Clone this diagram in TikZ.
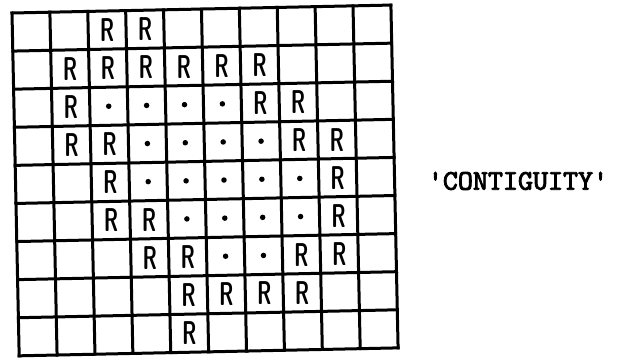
\documentclass[tikz,border=0pt]{standalone}
\usepackage{fontspec}
\usepackage{graphicx}
\newfontfamily\typew{lmmono10-regular.otf}[FakeBold=3]
\begin{document}
\begin{tikzpicture}[x=1pt,y=-1pt,
  gridline/.style={line width=3pt, line cap=rect},
  rmark/.style={font=\fontsize{33}{33}\selectfont\sffamily\bfseries, inner sep=0pt},
  dotmark/.style={circle, fill, inner sep=0pt, minimum size=5.5pt},
  caption/.style={font=\typew\fontsize{28.6}{28.6}\selectfont, inner sep=0pt}]
\useasboundingbox (0,0) rectangle (626,359);
\begin{scope}[shift={(12pt,-13pt)}, rotate=1.2, x=37.9pt, y=-38.1pt]
  \foreach \i in {0,...,10} \draw[gridline] (\i,0) -- (\i,9);
  \foreach \j in {0,...,9} \draw[gridline] (0,\j) -- (10,\j);
  \foreach \r/\c in {0/2,0/3,
                     1/1,1/2,1/3,1/4,1/5,1/6,
                     2/1,2/6,2/7,
                     3/1,3/2,3/7,3/8,
                     4/2,4/8,
                     5/2,5/3,5/8,
                     6/3,6/4,6/7,6/8,
                     7/4,7/5,7/6,7/7,
                     8/4}
    \node[rmark] (r-\r-\c) at (\c+0.5,\r+0.5) {\scalebox{0.62}[1]{R}};
  \foreach \r/\c in {2/2,2/3,2/4,2/5,
                     3/3,3/4,3/5,3/6,
                     4/3,4/4,4/5,4/6,4/7,
                     5/4,5/5,5/6,5/7,
                     6/5,6/6}
    \node[dotmark] (d-\r-\c) at (\c+0.5,\r+0.5) {};
\end{scope}
\node[caption] (contiguity) at (518,181) {\char39 CONTIGUITY\char39};
\end{tikzpicture}
\end{document}
